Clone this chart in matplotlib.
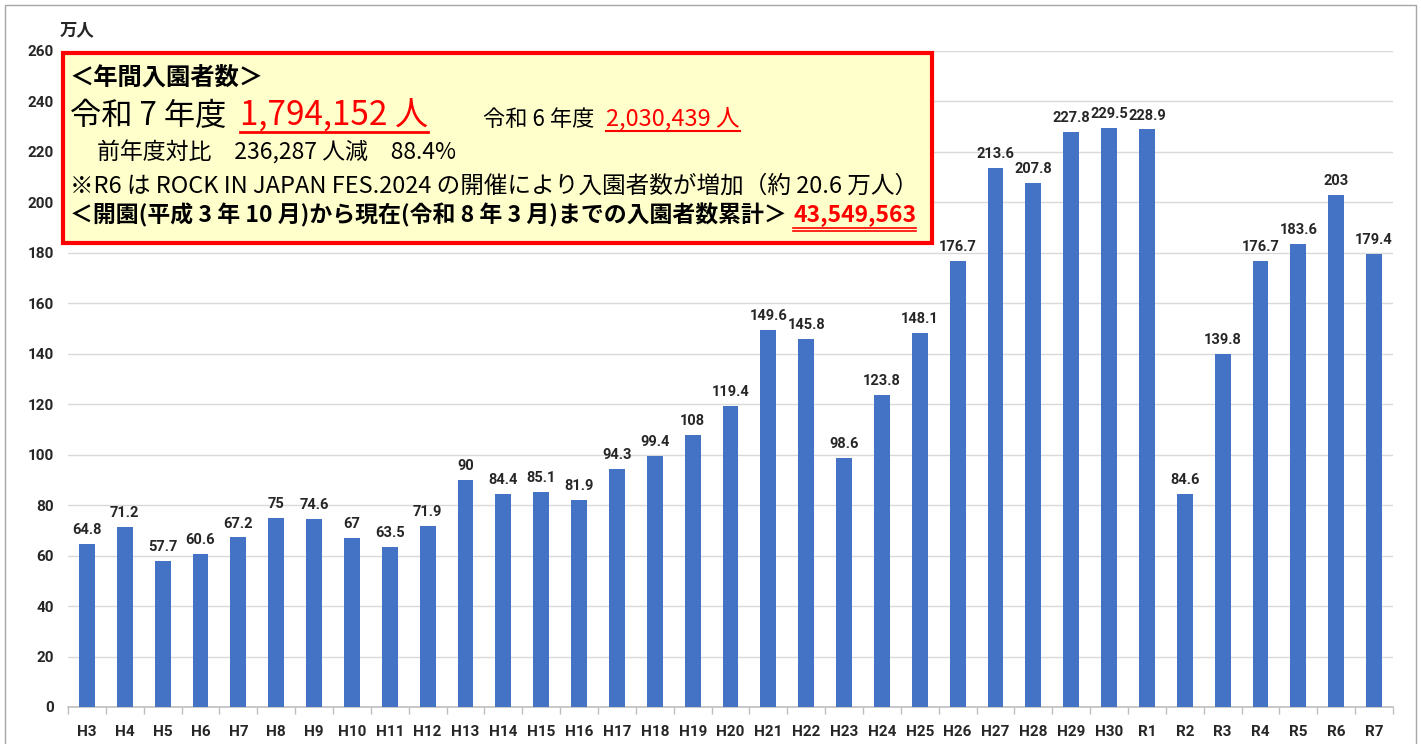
import matplotlib
matplotlib.use("Agg")
import matplotlib.pyplot as plt
from matplotlib.patches import Rectangle
import numpy as np

plt.rcParams['font.family'] = ['Noto Sans CJK JP', 'DejaVu Sans']

categories = ["H3", "H4", "H5", "H6", "H7", "H8", "H9", "H10", "H11", "H12", "H13",
              "H14", "H15", "H16", "H17", "H18", "H19", "H20", "H21", "H22", "H23",
              "H24", "H25", "H26", "H27", "H28", "H29", "H30", "R1", "R2", "R3",
              "R4", "R5", "R6", "R7"]
visitors = [64.8, 71.2, 57.7, 60.6, 67.2, 75, 74.6, 67, 63.5, 71.9, 90,
            84.4, 85.1, 81.9, 94.3, 99.4, 108, 119.4, 149.6, 145.8, 98.6,
            123.8, 148.1, 176.7, 213.6, 207.8, 227.8, 229.5, 228.9, 84.6, 139.8,
            176.7, 183.6, 203, 179.4]
yticks = list(range(0, 261, 20))

W, H = 1421, 744
fig = plt.figure(figsize=(W / 100, H / 100), dpi=100)
ax = fig.add_axes([68 / W, 1 - 707 / H, (1393 - 68) / W, (707 - 51) / H])

LAB = ["Roboto", "DejaVu Sans"]
x = np.arange(len(categories))
ax.bar(x, visitors, width=0.42, color="#4472C4", zorder=3)
for xi, v in zip(x, visitors):
    lab = f"{v:g}"
    ax.annotate(lab, (xi, v), xytext=(0, 5), textcoords="offset points",
                ha="center", va="bottom", fontsize=10.5, fontweight="bold",
                family=LAB, color="#262626")

ax.set_xlim(-0.5, len(categories) - 0.5)
ax.set_ylim(0, 260)
ax.set_yticks(yticks)
ax.set_yticklabels([str(t) for t in yticks], fontsize=11, fontweight="bold",
                   family=LAB, color="#262626")
ax.set_xticks(x)
ax.set_xticklabels(categories, fontsize=11, fontweight="bold", family=LAB,
                   color="#262626")
ax.set_xticks(np.arange(-0.5, len(categories), 1), minor=True)
ax.tick_params(axis="x", which="major", length=0, pad=13)
ax.tick_params(axis="x", which="minor", length=5, color="#BFBFBF", width=1)
ax.tick_params(axis="y", length=0, pad=10)
ax.grid(axis="y", color="#D9D9D9", linewidth=1, zorder=0)
for s in ["left", "right", "top"]:
    ax.spines[s].set_visible(False)
ax.spines["bottom"].set_color("#BFBFBF")
ax.spines["bottom"].set_linewidth(1.2)

fig.text(60 / W, 1 - 30 / H, "万人", fontsize=12.5, fontweight="bold", va="center",
         ha="left", color="#262626")

# outer frame
fig.patches.append(Rectangle((5 / W, -0.01), (1416 - 5) / W, 1 - 5 / H + 0.01,
                             transform=fig.transFigure, fill=False,
                             edgecolor="#A6A6A6", linewidth=1))

# text box
fig.patches.append(Rectangle((63 / W, 1 - 243 / H), (932 - 63) / W, (243 - 53) / H,
                             transform=fig.transFigure, facecolor="#FFFFCC",
                             edgecolor="#FF0000", linewidth=3, zorder=10))


def ftxt(px, py, s, **kw):
    return fig.text(px / W, 1 - py / H, s, va="center", ha="left", zorder=11, **kw)


ftxt(70, 78, "＜年間入園者数＞", fontsize=17.5, fontweight="bold")
ftxt(70, 116, "令和 7 年度", fontsize=22.5)
t_big = ftxt(240, 116, "1,794,152 人", fontsize=24, color="#FF0000")
ftxt(483, 119, "令和 6 年度", fontsize=16)
t_r6 = ftxt(606, 119, "2,030,439 人", fontsize=17, color="#FF0000")
ftxt(97, 153, "前年度対比　236,287 人減　88.4%", fontsize=16.5)
ftxt(70, 186, "※R6 は ROCK IN JAPAN FES.2024 の開催により入園者数が増加（約 20.6 万人）",
     fontsize=17)
ftxt(70, 215, "＜開園(平成 3 年 10 月)から現在(令和 8 年 3 月)までの入園者数累計＞",
     fontsize=16.5, fontweight="bold")
t_tot = ftxt(793, 215, "43,549,563", fontsize=16.5, fontweight="bold", color="#FF0000")

fig.canvas.draw()
r = fig.canvas.get_renderer()


def underline(t, py_list, lw):
    bb = t.get_window_extent(r)
    for py in py_list:
        fig.add_artist(plt.Line2D([bb.x0 / W, bb.x1 / W], [1 - py / H, 1 - py / H],
                                  transform=fig.transFigure, color="#FF0000",
                                  linewidth=lw, zorder=12))


underline(t_big, [132], 2)
underline(t_r6, [131], 1.5)
underline(t_tot, [228, 231], 1.2)

fig.savefig("out.png", dpi=100)
